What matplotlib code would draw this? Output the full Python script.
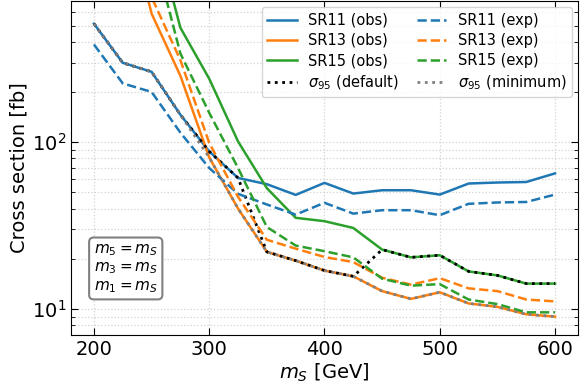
#!/usr/bin/python3
import matplotlib
matplotlib.use("Agg")
import matplotlib.pyplot as plt
import numpy

# scalar mass points (GeV)
mass = [200, 225, 250, 275, 300, 325, 350, 375, 400, 425, 450, 475, 500, 525, 550, 575, 600]

# observed / expected 95% CL limits per signal region (fb)
sr11_obs = [513, 299, 264, 146, 88, 61, 56, 48.3, 57, 49.2, 51.5, 51.5, 48.5, 56.5, 57.3, 57.7, 65]
sr13_obs = [8000, 2900, 590, 250, 81, 40, 22, 19.5, 17.0, 15.7, 12.8, 11.5, 12.6, 10.8, 10.3, 9.3, 9.0]
sr15_obs = [10000, 5000, 2200, 485, 240, 101, 53, 35.2, 33.6, 30.6, 22.7, 20.4, 21.0, 16.8, 15.9, 14.2, 14.2]

sr11_exp = [385, 225, 200, 114, 70, 49, 42.3, 36.8, 43.3, 37.3, 39.1, 39.1, 36.5, 42.7, 43.5, 43.8, 48.5]
sr13_exp = [6000, 2000, 740, 310, 99, 47, 26, 23, 20.5, 19.1, 15.4, 14.0, 15.3, 13.3, 12.8, 11.4, 11.1]
sr15_exp = [5000, 3000, 1570, 340, 150, 70, 31, 24, 22.2, 20.4, 15.2, 13.8, 14.1, 11.4, 10.7, 9.55, 9.55]

# region picked by the default strategy at each mass point
default_sr = ["SR11"] * 6 + ["SR13"] * 4 + ["SR15"] * 7

obs = {"SR11": sr11_obs, "SR13": sr13_obs, "SR15": sr15_obs}
exp = {"SR11": sr11_exp, "SR13": sr13_exp, "SR15": sr15_exp}
colors = {"SR11": "tab:blue", "SR13": "tab:orange", "SR15": "tab:green"}

sigma_default = [obs[sr][i] for i, sr in enumerate(default_sr)]
sigma_min = numpy.min(numpy.array([sr11_obs, sr13_obs, sr15_obs]), axis=0)

fig, ax = plt.subplots(figsize=(5.81, 3.88), dpi=100)
fig.subplots_adjust(left=0.122, right=0.995, top=0.997, bottom=0.137)

for sr in ["SR11", "SR13", "SR15"]:
    ax.plot(mass, obs[sr], color=colors[sr], lw=1.8, label=sr + " (obs)")
ax.plot(mass, sigma_default, color="black", ls=":", lw=2.0, label=r"$\sigma_{95}$ (default)")
for sr in ["SR11", "SR13", "SR15"]:
    ax.plot(mass, exp[sr], color=colors[sr], ls="--", lw=1.8, label=sr + " (exp)")
ax.plot(mass, sigma_min, color="gray", ls=":", lw=2.0, label=r"$\sigma_{95}$ (minimum)")

ax.set_yscale("log")
ax.set_xlim(180, 620)
ax.set_ylim(7, 700)
ax.set_xticks([200, 300, 400, 500, 600])

ax.set_xlabel(r"$m_S$ [GeV]", fontsize=14, labelpad=2)
ax.set_ylabel("Cross section [fb]", fontsize=14, labelpad=2)
ax.tick_params(which="both", direction="in", top=True, right=True, labelsize=14)
ax.tick_params(which="major", length=5)
ax.tick_params(which="minor", length=3)

ax.grid(True, which="major", ls=":", color="lightgray", lw=0.9)
ax.grid(True, which="minor", axis="y", ls=":", color="lightgray", lw=0.9)

ax.legend(ncol=2, loc="upper right", fontsize=10.5, columnspacing=1.2,
          handlelength=2.0, labelspacing=0.35, borderaxespad=0.4)

ax.text(0.045, 0.12, "$m_5 = m_S$\n$m_3 = m_S$\n$m_1 = m_S$", transform=ax.transAxes,
        fontsize=11, va="bottom", ha="left", linespacing=1.15,
        bbox=dict(boxstyle="round,pad=0.3", facecolor="white", edgecolor="gray", lw=1.5))

fig.savefig("out.png", dpi=100)
